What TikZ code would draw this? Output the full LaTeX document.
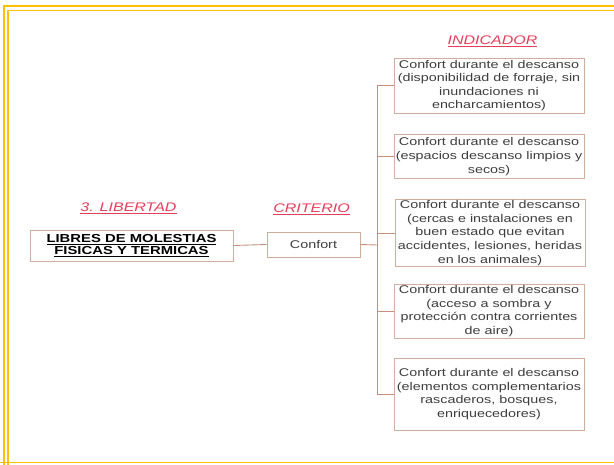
\documentclass[tikz,border=0pt]{standalone}
\usepackage{fontspec}
\setmainfont{Liberation Sans}
\newfontfamily\bxfont[FakeStretch=1.28]{Liberation Sans}
\definecolor{gold}{HTML}{FFC000}
\definecolor{boxline}{HTML}{D4AE9C}
\definecolor{conn}{HTML}{C4927C}
\definecolor{txt}{HTML}{3E3E3E}
\definecolor{head}{HTML}{EA3D5A}
\tikzset{
  ind/.style={draw=boxline, line width=0.9pt, minimum width=190pt, inner sep=1pt, align=center,
    font=\bxfont\fontsize{11.2}{13.6}\selectfont, text=txt},
  heading/.style={font=\bxfont\itshape\fontsize{12.5}{14}\selectfont, text=head, inner sep=0pt},
  link/.style={draw=conn, line width=0.9pt},
}
\begin{document}
\begin{tikzpicture}[x=1pt,y=-1pt]
\useasboundingbox (0,0) rectangle (614,464);
% frame
\draw[gold, line width=1.6pt] (4,470) -- (4,6) -- (620,6);
\draw[gold, line width=1.1pt] (8,470) -- (8,10.5) -- (620,10.5);
\draw[gold, line width=1.6pt] (0,462.5) -- (620,462.5);
% headings
\node[heading] (hlib) at (128.5,208) {\underline{3. LIBERTAD}};
\node[heading] (hcrit) at (311.5,209) {\underline{CRITERIO}};
\node[heading] (hind) at (492.5,41) {\underline{INDICADOR}};
% left boxes
\node[draw=boxline, line width=0.9pt, minimum width=203pt, minimum height=31pt, inner sep=1pt, align=center,
  font=\bxfont\bfseries\fontsize{11.6}{12.5}\selectfont, text=black] (lib) at (131.5,245.5)
  {\underline{LIBRES DE MOLESTIAS}\\\underline{FISICAS Y TERMICAS}};
\node[draw=boxline, line width=0.9pt, minimum width=93pt, minimum height=25pt, inner sep=1pt,
  font=\bxfont\fontsize{11.2}{13}\selectfont, text=txt] (conf) at (313.5,244.5) {Confort};
% indicator boxes
\node[ind, minimum height=55pt] (b1) at (489,85.5)
  {Confort durante el descanso\\(disponibilidad de forraje, sin\\inundaciones ni\\encharcamientos)};
\node[ind, minimum height=44pt] (b2) at (489,156.5)
  {Confort durante el descanso\\(espacios descanso limpios y\\secos)};
\node[ind, minimum height=66pt] (b3) at (490,233)
  {Confort durante el descanso\\(cercas e instalaciones en\\buen estado que evitan\\accidentes, lesiones, heridas\\en los animales)};
\node[ind, minimum height=54pt] (b4) at (489,311)
  {Confort durante el descanso\\(acceso a sombra y\\protección contra corrientes\\de aire)};
\node[ind, minimum height=72pt] (b5) at (489,394)
  {Confort durante el descanso\\(elementos complementarios\\rascaderos, bosques,\\enriquecedores)};
% connectors
\coordinate (spine) at (377,245);
\draw[link] (lib.east) -- (conf.west);
\draw[link] (conf.east) -- (spine);
\draw[link] (spine |- b1.west) -- (spine |- b5.west);
\foreach \b in {b1,b2,b3,b4,b5} \draw[link] (spine |- \b.west) -- (\b.west);
\end{tikzpicture}
\end{document}
